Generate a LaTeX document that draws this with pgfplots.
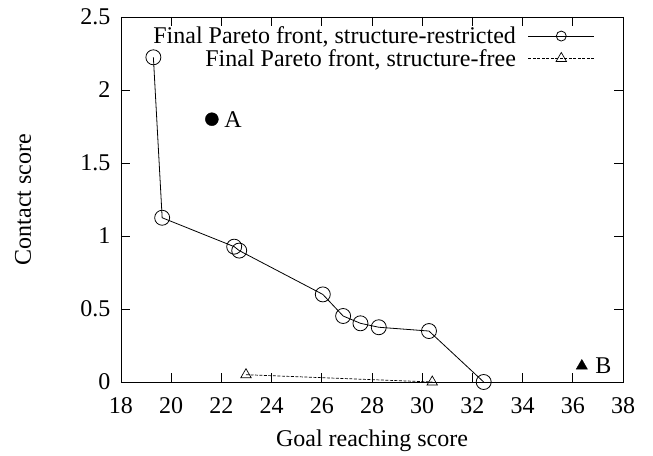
\documentclass[border=0pt]{standalone}
\usepackage{pgfplots}
\pgfplotsset{compat=1.18}
\usepackage{fontspec}
\setmainfont{Liberation Serif}
\newcommand{\bigf}{\fontsize{24}{26}\selectfont}
\begin{document}
\begin{tikzpicture}
\begin{axis}[
    scale only axis,
    width=502pt, height=365pt,
    xmin=18, xmax=38, ymin=0, ymax=2.5,
    xtick={18,20,...,38},
    ytick={0,0.5,...,2.5},
    tick align=inside,
    major tick length=9pt,
    axis line style={line width=0.8pt},
    every tick/.style={line width=0.8pt, black},
    /pgf/number format/assume math mode=true,
    ticklabel style={font=\bigf},
    label style={font=\bigf},
    xlabel={Goal reaching score},
    ylabel={Contact score},
    xticklabel style={yshift=-12pt},
    yticklabel style={xshift=-7pt},
    xlabel style={at={(axis description cs:0.5,-0.176)}, anchor=base},
    ylabel style={at={(axis description cs:-0.195,0.5)}, anchor=center},
    legend style={draw=none, fill=none, inner sep=0pt, at={(rel axis cs:0.944,0.979)}, anchor=north east,
        font=\bigf, row sep=0pt, column sep=10pt},
    legend cell align=right,
    legend plot pos=right,
    legend image code/.code={\draw[mark repeat=2,mark phase=2,#1] plot coordinates {(0pt,0pt) (33pt,0pt) (66pt,0pt)};},
]
\addplot[black, line width=0.8pt, mark=o, mark size=7.5pt, mark options={solid},
    legend image post style={mark size=5pt}] coordinates {
    (19.29,2.224) (19.64,1.125) (22.51,0.927) (22.71,0.900) (26.04,0.600)
    (26.85,0.452) (27.54,0.402) (28.27,0.375) (30.27,0.349) (32.45,0.0)
};
\addlegendentry{Final Pareto front, structure-restricted}
\addplot[black, line width=0.7pt, dash pattern=on 3pt off 1.5pt, mark=triangle, mark size=6pt, mark options={solid}] coordinates {
    (22.98,0.05) (30.40,0.0)
};
\addlegendentry{Final Pareto front, structure-free}
\addplot[black, only marks, mark=*, mark size=6.5pt, forget plot] coordinates {(21.62,1.80)} node[right, xshift=9pt, font=\bigf] {A};
\addplot[black, only marks, mark=triangle*, mark size=6.5pt, forget plot] coordinates {(36.36,0.11)} node[right, xshift=10pt, font=\bigf] {B};
\end{axis}
\path ([shift={(-121pt,-73pt)}]current axis.south west) rectangle ([shift={(30pt,17pt)}]current axis.north east);
\end{tikzpicture}
\end{document}
